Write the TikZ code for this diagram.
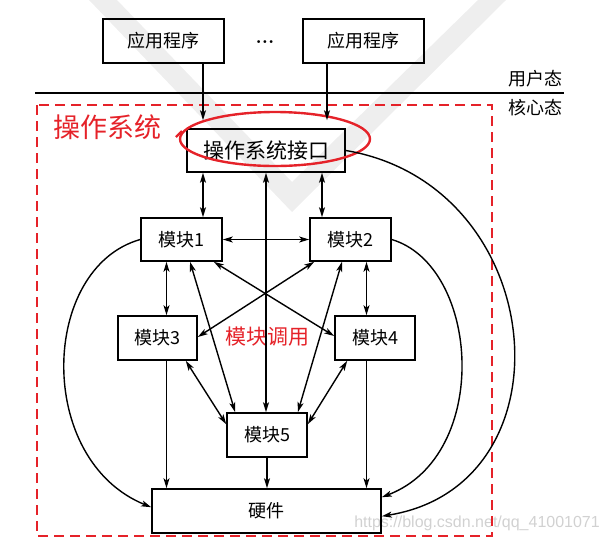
\documentclass[tikz,border=0pt]{standalone}
\usepackage{fontspec}
\newfontfamily\cjk{Noto Sans CJK SC}
\newfontfamily\wm{Liberation Sans}
\usetikzlibrary{arrows.meta,calc}
\definecolor{myred}{HTML}{E52229}
\definecolor{vgray}{HTML}{EEEEEE}
\begin{document}
\begin{tikzpicture}[x=1pt,y=-1pt,
 box/.style={draw,line width=1.6pt,inner sep=0pt,font=\cjk\fontsize{18}{18}\selectfont},
 lbl/.style={inner sep=0pt,font=\cjk\fontsize{18}{18}\selectfont},
 tip/.tip={Stealth[length=10pt,width=6pt,inset=2.5pt]},
 arr/.style={-tip,line width=1.4pt},
 darr/.style={tip-tip,line width=1.4pt},
]
\useasboundingbox (0,0) rectangle (610,542);
% watermark
\fill[vgray] (89,0) -- (292,212) -- (506,0) -- (478,0) -- (292,182) -- (117,0) -- cycle;
\node[anchor=east,text=black!18,font=\wm\fontsize{16}{16}\selectfont,inner sep=0pt] (wmk) at (600,523) {https://blog.csdn.net/qq\_41001071};

% user/kernel line
\draw[line width=2.4pt] (35,93) -- (564,93);
\node[lbl] (user) at (535,79) {用户态};
\node[lbl] (kern) at (535,108) {核心态};

% red dashed OS frame
\draw[myred,line width=2.4pt,dash pattern=on 10pt off 6pt] (37,105) rectangle (492,536);
\node[text=myred,inner sep=0pt,font=\cjk\fontsize{27}{27}\selectfont] (ostitle) at (107,127) {操作系统};

% boxes
\node[box,minimum width=121pt,minimum height=44pt] (app1) at (163.5,41) {应用程序};
\node[box,minimum width=121pt,minimum height=44pt] (app2) at (363.5,41) {应用程序};
\node[inner sep=0pt,font=\bfseries\fontsize{20}{20}\selectfont] (dots) at (265,42) {...};
\node[box,minimum width=158pt,minimum height=43pt,font=\cjk\fontsize{21}{21}\selectfont] (os) at (266,150.5) {操作系统接口};
\node[box,minimum width=81pt,minimum height=43pt] (m1) at (181.5,239.5) {模块1};
\node[box,minimum width=81pt,minimum height=43pt] (m2) at (350.5,239.5) {模块2};
\node[box,minimum width=79pt,minimum height=44pt] (m3) at (157.5,338) {模块3};
\node[box,minimum width=80pt,minimum height=44pt] (m4) at (375,338) {模块4};
\node[box,minimum width=80pt,minimum height=44pt] (m5) at (267,435) {模块5};
\node[box,minimum width=229pt,minimum height=44pt] (hw) at (266.5,511) {硬件};
\node[text=myred,inner sep=0pt,font=\cjk\fontsize{21}{21}\selectfont] (call) at (267,337) {模块调用};

% red ellipse
\draw[myred,line width=2.4pt] (275,139) ellipse [x radius=95, y radius=27];
\draw[myred,line width=2.2pt] (176,137) -- (182,131);

% x positions
\coordinate (xa) at (203,0);
\coordinate (xb) at (327,0);
\coordinate (xc) at (322,0);
\coordinate (xm) at (266,0);
\coordinate (xl) at (166.5,0);
\coordinate (xr) at (366.5,0);

% arrows
\draw[arr,shorten >=8pt] (app1.south -| xa) -- (os.north -| xa);
\draw[arr,shorten >=8pt] (app2.south -| xb) -- (os.north -| xb);
\draw[darr] (os.south -| xa) -- (m1.north -| xa);
\draw[darr] (os.south -| xc) -- (m2.north -| xc);
\draw[darr] (os.south -| xm) -- (m5.north -| xm);
\draw[darr] (m1.east) -- (m2.west);
\draw[darr] (m1.south -| xl) -- (m3.north -| xl);
\draw[darr] (m2.south -| xr) -- (m4.north -| xr);
\draw[darr] ([xshift=-9pt]m1.south east) -- ([yshift=2pt]m4.west);
\draw[darr] ([xshift=5pt]m2.south west) -- ([yshift=1pt]m3.east);
\draw[darr] ([xshift=8.5pt]m1.south) -- ([xshift=9pt]m5.north west);
\draw[darr] ([xshift=-8.5pt]m2.south) -- ([xshift=-10pt]m5.north east);
\draw[darr] ([xshift=-12pt]m3.south east) -- ([yshift=-12pt]m5.north west);
\draw[darr] ([xshift=13pt]m4.south west) -- ([yshift=-12pt]m5.north east);
\draw[arr] (m3.south -| xl) -- (hw.north -| xl);
\draw[arr] (m4.south -| xr) -- (hw.north -| xr);
\draw[arr] (m5.south) -- (hw.north -| m5.south);

% curves to hardware
\draw[arr] (m1.west) .. controls (40,268) and (35,460) .. ([yshift=-19pt]hw.north west);
\draw[arr] (m2.east) .. controls (480,266) and (492,455) .. ([yshift=-9pt]hw.north east);
\draw[arr] (os.east) .. controls (550,185) and (575,485) .. ([yshift=-28pt]hw.north east);
\end{tikzpicture}
\end{document}
